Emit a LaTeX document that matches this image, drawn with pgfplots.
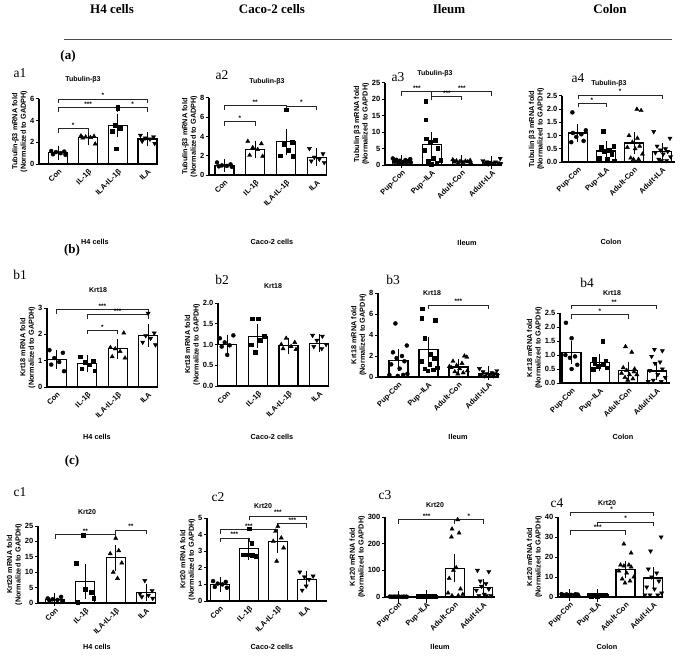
\documentclass[border=0pt]{standalone}
\usepackage{fontspec}
\setmainfont{Liberation Sans}
\newfontfamily\timesf{Liberation Serif}
\usepackage{pgfplots}
\pgfplotsset{compat=1.18}
\newcommand{\brk}[4]{\draw[line width=0.75pt, black!85] (axis cs:#1,#3) ++(0pt,-4pt) -- (axis cs:#1,#3) -- node[above, black, font=\bfseries\fontsize{6.5}{6.5}\selectfont, inner sep=1pt]{#4} (axis cs:#2,#3) -- ++(0pt,-4pt);}
\pgfplotsset{
 panel/.style={scale only axis, axis lines=left, axis line style={-, line width=1.2pt}, clip=false, ymin=0,
  xtick={0,1,2,3}, xtick style={draw=none}, ytick style={line width=1pt, black}, tick align=outside, major tick length=3pt,
  tick label style={font=\bfseries\fontsize{7.5}{8}\selectfont}, xticklabel style={rotate=45, anchor=north east, inner sep=1pt},
  yticklabel style={inner sep=1.5pt},
  ylabel style={align=center, font=\bfseries\fontsize{7.3}{8.6}\selectfont, inner sep=1pt},
  /pgf/number format/assume math mode=true, anchor=south west},
 cellx/.style={xticklabels={Con,IL-1β,ILA-IL-1β,ILA}},
 tissx/.style={xticklabels={Pup-Con,Pup–ILA,Adult-Con,Adult-ILA}},
 dec/.style={yticklabel style={/pgf/number format/.cd, fixed, fixed zerofill, precision=1}},
 barp/.style={ybar, bar shift=0pt, bar width=19pt, fill=white, draw=black, line width=1.3pt,
  error bars/.cd, y dir=both, y explicit, error bar style={line width=1pt, black}, error mark options={line width=1pt, mark size=6pt, black}},
 mk1/.style={only marks, black, mark=*, mark size=2pt},
 mk2/.style={only marks, black, mark=square*, mark size=1.8pt},
 mk3/.style={only marks, black, mark=triangle*, mark size=2.4pt},
 mk4/.style={only marks, black, mark=triangle*, mark size=2.4pt, mark options={rotate=180}},
}
\begin{document}
\begin{tikzpicture}
\path[use as bounding box] (0pt,0pt) rectangle (685pt,-658pt);
% headers
\begin{scope}[font=\timesf\bfseries\fontsize{13}{13}\selectfont]
\node at (112pt,-9pt) {H4 cells};
\node at (272pt,-9pt) {Caco-2 cells};
\node at (449pt,-9pt) {Ileum};
\node at (610pt,-9pt) {Colon};
\node at (68pt,-56pt) {(a)};
\node at (72pt,-250pt) {(b)};
\node at (72pt,-461pt) {(c)};
\end{scope}
\draw[line width=0.8pt, black!70] (64pt,-39pt) -- (672pt,-39pt);
\begin{scope}[font=\timesf\fontsize{13.5}{13.5}\selectfont]
\node at (20pt,-73pt) {a1};
\node at (222pt,-75pt) {a2};
\node at (398pt,-77pt) {a3};
\node at (578pt,-78pt) {a4};
\node at (20pt,-275pt) {b1};
\node at (222pt,-280pt) {b2};
\node at (393pt,-280pt) {b3};
\node at (587pt,-283pt) {b4};
\node at (20pt,-492pt) {c1};
\node at (218pt,-497pt) {c2};
\node at (385pt,-495pt) {c3};
\node at (557pt,-503pt) {c4};
\end{scope}
\begin{scope}[font=\bfseries\fontsize{7}{8}\selectfont]
\node at (83pt,-80pt) {Tubulin-β3};
\node at (267pt,-82pt) {Tubulin-β3};
\node at (435pt,-74pt) {Tubulin-β3};
\node at (609pt,-84pt) {Tubulin-β3};
\node at (98pt,-290pt) {Krt18};
\node at (273pt,-286pt) {Krt18};
\node at (432pt,-293pt) {Krt18};
\node at (612pt,-293pt) {Krt18};
\node at (87pt,-512pt) {Krt20};
\node at (263pt,-506pt) {Krt20};
\node at (435pt,-505pt) {Krt20};
\node at (607pt,-503pt) {Krt20};
\end{scope}
\begin{scope}[font=\bfseries\fontsize{7.3}{8}\selectfont]
\node at (95pt,-242pt) {H4 cells};
\node at (272pt,-242pt) {Caco-2 cells};
\node at (467pt,-243pt) {Ileum};
\node at (611pt,-242pt) {Colon};
\node at (97pt,-437pt) {H4 cells};
\node at (272pt,-437pt) {Caco-2 cells};
\node at (458pt,-437pt) {Ileum};
\node at (623pt,-437pt) {Colon};
\node at (97pt,-647pt) {H4 cells};
\node at (272pt,-647pt) {Caco-2 cells};
\node at (440pt,-647pt) {Ileum};
\node at (607pt,-647pt) {Colon};
\end{scope}

% ---------- a1
\begin{axis}[panel, cellx, at={(39pt,-164pt)}, width=116pt, height=65pt, xmin=-0.65, xmax=3.25, ymax=6, ytick={0,2,4,6},
 ylabel={Tubulin-β3 mRNA fold\\(Normalized to GADPH)}]
\addplot[barp] coordinates {(0,1.05) +- (0,0.1) (1,2.45) +- (0,0.15) (2,3.55) +- (0,0.55) (3,2.3) +- (0,0.12)};
\addplot[mk1] coordinates {(-0.24,1.2) (0.2,1.15) (-0.08,1.1) (0.08,1.0) (-0.18,0.9) (0.24,0.85)};
\addplot[mk3] coordinates {(0.76,2.6) (1.2,2.55) (0.92,2.5) (1.08,2.45) (0.82,2.4) (1.24,1.85)};
\addplot[mk2] coordinates {(2.0,5.3) (2.0,5.1) (1.92,3.6) (2.08,3.3) (1.82,3.0) (1.95,1.4)};
\addplot[mk4] coordinates {(2.76,2.65) (3.2,2.5) (2.92,2.4) (3.08,2.3) (2.82,2.1) (3.24,1.9)};
\brk{0}{3}{6.0}{*}
\brk{0}{2}{5.2}{***}
\brk{2}{3}{5.2}{*}
\brk{0}{1}{3.25}{*}
\end{axis}

% ---------- a2
\begin{axis}[panel, cellx, at={(209pt,-175pt)}, width=118pt, height=77pt, xmin=-0.5, xmax=3.33, ymax=8, ytick={0,2,4,6,8},
 ylabel={Tubulin-β3 mRNA fold\\(Normalized to GADPH)}]
\addplot[barp] coordinates {(0,1.0) +- (0,0.08) (1,2.65) +- (0,0.28) (2,3.45) +- (0,0.75) (3,1.85) +- (0,0.28)};
\addplot[mk1] coordinates {(-0.24,1.3) (0.2,1.1) (-0.08,1.0) (0.08,0.95) (-0.18,0.9) (0.24,0.85)};
\addplot[mk3] coordinates {(0.76,3.5) (1.2,3.25) (0.92,2.85) (1.08,2.65) (0.82,2.05) (1.24,1.95)};
\addplot[mk2] coordinates {(2.0,6.8) (2.2,3.4) (1.92,3.2) (2.08,2.6) (1.82,2.0) (2.24,1.95)};
\addplot[mk4] coordinates {(2.76,2.75) (3.2,2.2) (2.92,1.85) (3.08,1.65) (2.82,1.45) (3.24,1.3)};
\brk{0}{1}{5.55}{*}
\brk{0}{2}{7.2}{**}
\brk{2}{3}{7.15}{*}
\end{axis}

% ---------- a3
\begin{axis}[panel, tissx, at={(385pt,-165pt)}, width=117pt, height=82pt, xmin=-0.56, xmax=3.34, ymax=25, ytick={0,5,10,15,20,25},
 ylabel={Tubulin β3 mRNA fold\\(Normalized to GAPDH)}]
\addplot[barp] coordinates {(0,1.2) +- (0,0.15) (1,6.3) +- (0,1.8) (2,1.0) +- (0,0.1) (3,0.8) +- (0,0.12)};
\addplot[mk1] coordinates {(-0.3,2.0) (0.28,1.8) (-0.18,1.6) (0.12,1.5) (-0.06,1.3) (0.2,1.2) (-0.24,1.0) (0.04,0.9) (0.3,0.8) (-0.12,0.7) (0.16,0.6) (-0.02,0.5)};
\addplot[mk2] coordinates {(0.8,19.5) (0.8,13.8) (0.82,8.0) (1.12,7.5) (0.94,7.0) (1.2,5.2) (0.76,4.5) (1.04,2.0) (1.3,1.5) (0.88,1.2) (1.16,0.5) (0.98,0.3)};
\addplot[mk3] coordinates {(1.7,1.6) (2.28,1.4) (1.82,1.3) (2.12,1.2) (1.94,1.1) (2.2,1.0) (1.76,0.9) (2.04,0.8) (2.3,0.7) (1.88,0.6)};
\addplot[mk4] coordinates {(3.28,2.0) (2.7,1.3) (2.82,1.0) (3.12,0.9) (2.94,0.8) (3.2,0.7) (2.76,0.6) (3.04,0.5) (3.3,0.4) (2.88,0.3)};
\brk{0}{1}{22.4}{***}
\brk{1}{3}{22.4}{***}
\brk{1}{2}{20.9}{***}
\end{axis}

% ---------- a4
\begin{axis}[panel, tissx, dec, at={(562pt,-162pt)}, width=113pt, height=66pt, xmin=-0.57, xmax=3.46, ymax=2.5, ytick={0,0.5,1,1.5,2,2.5},
 ylabel={Tubulin β3 mRNA fold\\(Normalized to GAPDH)}]
\addplot[barp] coordinates {(0,1.1) +- (0,0.13) (1,0.42) +- (0,0.13) (2,0.72) +- (0,0.18) (3,0.4) +- (0,0.1)};
\addplot[mk1] coordinates {(-0.2,1.88) (0.28,1.2) (-0.18,1.1) (0.12,1.05) (-0.06,0.95) (0.2,0.8) (-0.24,0.75)};
\addplot[mk2] coordinates {(0.9,1.17) (1.28,0.6) (0.82,0.55) (1.12,0.45) (0.94,0.4) (1.2,0.3) (0.76,0.15) (1.04,0.1) (1.3,0.05)};
\addplot[mk3] coordinates {(2.1,2.0) (2.25,1.95) (1.82,1.0) (2.12,0.9) (1.94,0.75) (2.2,0.6) (1.76,0.55) (2.04,0.5) (2.3,0.3) (1.88,0.15) (2.16,0.1) (1.98,0.1)};
\addplot[mk4] coordinates {(2.7,1.15) (3.28,0.9) (2.82,0.6) (3.12,0.5) (2.94,0.45) (3.2,0.4) (2.76,0.35) (3.04,0.3) (3.3,0.2) (2.88,0.1) (3.16,0.05) (2.98,0.05)};
\brk{0}{3}{2.54}{*}
\brk{0}{1}{2.22}{*}
\end{axis}

% ---------- b1
\begin{axis}[panel, cellx, at={(47pt,-387pt)}, width=110pt, height=79pt, xmin=-0.32, xmax=3.29, ymax=3, ytick={0,1,2,3},
 ylabel={Krt18 mRNA fold\\(Normalized to GAPDH)}]
\addplot[barp] coordinates {(0,1.05) +- (0,0.13) (1,0.88) +- (0,0.09) (2,1.45) +- (0,0.15) (3,1.95) +- (0,0.2)};
\addplot[mk1] coordinates {(-0.24,1.4) (0.2,1.3) (-0.08,1.1) (0.08,0.95) (-0.18,0.85) (0.24,0.6)};
\addplot[mk2] coordinates {(0.76,1.15) (1.2,1.0) (0.92,0.95) (1.08,0.85) (0.82,0.7) (1.24,0.62)};
\addplot[mk3] coordinates {(2.2,2.05) (1.76,1.5) (1.92,1.45) (2.08,1.35) (1.82,1.15) (2.24,1.1)};
\addplot[mk4] coordinates {(3.0,2.8) (3.2,2.05) (2.92,1.95) (3.08,1.85) (2.82,1.7) (3.24,1.6)};
\brk{0}{3}{2.94}{***}
\brk{1}{3}{2.75}{***}
\brk{1}{2}{2.15}{*}
\end{axis}

% ---------- b2
\begin{axis}[panel, cellx, dec, at={(218pt,-386pt)}, width=109pt, height=83pt, xmin=-0.3, xmax=3.25, ymax=2, ytick={0,0.5,1,1.5,2},
 ylabel={Krt18 mRNA fold\\(Normalized to GAPDH)}]
\addplot[barp] coordinates {(0,1.0) +- (0,0.08) (1,1.2) +- (0,0.15) (2,0.97) +- (0,0.05) (3,1.03) +- (0,0.07)};
\addplot[mk1] coordinates {(0.2,1.22) (-0.24,1.15) (-0.08,1.05) (0.08,0.98) (-0.18,0.95) (0.0,0.75)};
\addplot[mk2] coordinates {(0.82,1.62) (1.0,1.62) (1.2,1.2) (1.08,1.1) (0.78,1.0) (0.92,0.82)};
\addplot[mk3] coordinates {(1.92,1.15) (2.2,1.05) (1.76,1.0) (2.08,0.95) (1.82,0.9) (2.24,0.88)};
\addplot[mk4] coordinates {(2.78,1.22) (3.1,1.2) (2.92,1.1) (3.22,1.0) (2.82,0.95) (3.08,0.9)};
\end{axis}

% ---------- b3
\begin{axis}[panel, tissx, at={(378pt,-377pt)}, width=120pt, height=84pt, xmin=-0.68, xmax=3.32, ymax=8, ytick={0,2,4,6,8},
 ylabel={Krt18 mRNA fold\\(Normalized to GAPDH)}]
\addplot[barp] coordinates {(0,1.6) +- (0,0.45) (1,2.6) +- (0,0.65) (2,0.95) +- (0,0.15) (3,0.35) +- (0,0.08)};
\addplot[mk1] coordinates {(-0.1,5.1) (0.28,3.0) (-0.18,2.35) (0.12,2.0) (-0.06,1.8) (0.2,1.5) (-0.24,1.2) (0.04,0.8) (0.3,0.3) (-0.3,0.2) (0.16,0.2) (-0.02,0.1)};
\addplot[mk2] coordinates {(0.8,6.5) (0.78,5.6) (1.22,5.4) (0.88,3.7) (1.06,2.2) (1.2,1.8) (0.76,1.5) (1.04,1.2) (1.3,0.9) (0.88,0.8) (1.16,0.7) (0.98,0.6)};
\addplot[mk3] coordinates {(2.2,2.0) (2.28,1.9) (1.82,1.5) (2.12,1.3) (1.94,1.1) (1.7,1.0) (1.76,0.9) (2.04,0.8) (2.3,0.6) (1.88,0.5) (2.16,0.4) (1.98,0.3)};
\addplot[mk4] coordinates {(2.7,0.8) (3.28,0.6) (2.82,0.5) (3.12,0.4) (2.94,0.3) (3.2,0.3) (2.76,0.2) (3.04,0.2) (3.3,0.15) (2.88,0.1) (3.16,0.1)};
\brk{1}{3}{6.83}{***}
\end{axis}

% ---------- b4
\begin{axis}[panel, tissx, dec, at={(560pt,-383pt)}, width=110pt, height=70pt, xmin=-0.41, xmax=3.47, ymax=2.5, ytick={0,0.5,1,1.5,2,2.5},
 ylabel={Krt18 mRNA fold\\(Normalized to GAPDH)}]
\addplot[barp] coordinates {(0,1.1) +- (0,0.2) (1,0.73) +- (0,0.1) (2,0.45) +- (0,0.1) (3,0.43) +- (0,0.12)};
\addplot[mk1] coordinates {(-0.2,2.15) (0.0,1.6) (-0.22,1.0) (0.12,0.95) (-0.06,0.9) (0.2,0.65) (0.0,0.5)};
\addplot[mk2] coordinates {(1.1,1.5) (0.8,0.85) (1.2,0.8) (0.82,0.7) (1.12,0.65) (0.94,0.6) (1.26,0.55) (0.76,0.5)};
\addplot[mk3] coordinates {(1.9,1.3) (2.12,1.1) (1.82,0.55) (2.22,0.5) (1.94,0.45) (2.2,0.4) (1.76,0.35) (2.04,0.3) (2.3,0.3) (1.88,0.2) (2.16,0.15) (1.98,0.1)};
\addplot[mk4] coordinates {(2.92,1.2) (3.2,1.15) (2.82,0.95) (3.12,0.75) (2.94,0.7) (3.2,0.5) (2.76,0.45) (3.04,0.3) (3.3,0.2) (2.88,0.1) (3.16,0.05) (2.7,0.05)};
\brk{0}{3}{2.77}{**}
\brk{0}{2}{2.44}{*}
\end{axis}

% ---------- c1
\begin{axis}[panel, cellx, at={(38pt,-603pt)}, width=115pt, height=77pt, xmin=-0.56, xmax=3.23, ymax=25, ytick={0,5,10,15,20,25},
 ylabel={Krt20 mRNA fold\\(Normalized to GAPDH)}]
\addplot[barp] coordinates {(0,1.2) +- (0,0.2) (1,7.0) +- (0,3.6) (2,14.7) +- (0,2.2) (3,3.4) +- (0,0.9)};
\addplot[mk1] coordinates {(0.2,2.0) (-0.24,1.5) (-0.08,1.2) (0.08,1.0) (-0.18,0.8) (0.24,0.7)};
\addplot[mk2] coordinates {(0.93,22) (0.7,13) (1.0,4.5) (1.2,3.5) (1.28,1.5) (0.75,0.3)};
\addplot[mk3] coordinates {(2.0,21) (2.1,17) (1.82,16) (2.2,13) (1.92,10) (2.06,8)};
\addplot[mk4] coordinates {(2.96,7.3) (3.2,4) (2.8,3) (3.08,2.5) (2.86,2) (3.22,1.5)};
\brk{0}{2}{22.2}{**}
\brk{2}{3}{23.6}{**}
\end{axis}

% ---------- c2
\begin{axis}[panel, cellx, at={(207pt,-601pt)}, width=120pt, height=83pt, xmin=-0.45, xmax=3.7, ymax=5, ytick={0,1,2,3,4,5},
 ylabel={Krt20 mRNA fold\\(Normalized to GAPDH)}]
\addplot[barp] coordinates {(0,1.0) +- (0,0.07) (1,3.15) +- (0,0.3) (2,3.6) +- (0,0.35) (3,1.3) +- (0,0.17)};
\addplot[mk1] coordinates {(-0.24,1.2) (0.2,1.15) (-0.08,1.05) (0.08,1.0) (-0.18,0.85) (0.24,0.8)};
\addplot[mk2] coordinates {(1.0,4.35) (1.1,3.5) (0.78,2.8) (0.95,2.8) (1.12,2.75) (1.24,2.7)};
\addplot[mk3] coordinates {(2.0,4.5) (1.92,4.2) (2.12,3.8) (1.84,3.6) (2.2,3.2) (1.96,2.4)};
\addplot[mk4] coordinates {(2.76,1.75) (3.22,1.5) (2.92,1.45) (3.08,1.3) (2.98,0.9) (2.84,0.65)};
\brk{1}{3}{5.1}{***}
\brk{2}{3}{4.65}{***}
\brk{0}{2}{4.3}{***}
\brk{0}{1}{3.8}{***}
\end{axis}

% ---------- c3
\begin{axis}[panel, tissx, at={(385pt,-597pt)}, width=110pt, height=80pt, xmin=-0.47, xmax=3.42, ymax=300, ytick={0,100,200,300},
 ylabel={Krt20 mRNA fold\\(Normalized to GAPDH)}]
\addplot[barp] coordinates {(0,1.0) +- (0,0.2) (1,2.0) +- (0,0.3) (2,107) +- (0,30) (3,35) +- (0,9)};
\addplot[mk1] coordinates {(-0.3,1.5) (0.28,1.2) (-0.18,1.0) (0.12,0.8) (-0.06,0.7) (0.2,1.4) (-0.24,0.9) (0.04,1.1) (0.3,0.6) (-0.12,1.3) (0.16,0.5) (-0.02,0.9)};
\addplot[mk2] coordinates {(0.7,3.5) (1.28,2.5) (0.82,2.0) (1.12,3.0) (0.94,1.5) (1.2,4.0) (0.76,1.0) (1.04,2.2) (1.3,0.8) (0.88,1.8) (1.16,1.2) (0.98,2.8)};
\addplot[mk3] coordinates {(2.1,290) (1.9,255) (2.15,240) (1.88,225) (2.05,110) (1.95,100) (1.8,70) (2.2,30) (1.76,15) (2.28,10) (1.9,5) (2.12,5)};
\addplot[mk4] coordinates {(2.8,100) (3.2,95) (2.9,60) (3.1,50) (2.94,40) (3.2,30) (2.76,25) (3.04,10) (3.28,5) (2.85,5) (3.12,5)};
\brk{0}{2}{290}{***}
\brk{2}{3}{290}{*}
\end{axis}

% ---------- c4
\begin{axis}[panel, tissx, at={(558pt,-597pt)}, width=102pt, height=80pt, xmin=-0.43, xmax=3.24, ymax=40, ytick={0,10,20,30,40},
 ylabel={Krt20 mRNA fold\\(Normalized to GAPDH)}]
\addplot[barp] coordinates {(0,1.0) +- (0,0.1) (1,0.8) +- (0,0.08) (2,13.7) +- (0,1.3) (3,9.5) +- (0,2.5)};
\addplot[mk1] coordinates {(-0.3,1.5) (0.28,1.2) (-0.18,1.0) (0.12,0.8) (-0.06,0.7) (0.2,1.4) (-0.24,0.9) (0.04,1.1) (0.3,0.6) (-0.12,1.3) (0.16,0.5) (-0.02,0.9)};
\addplot[mk2] coordinates {(0.7,1.0) (1.28,0.8) (0.82,0.9) (1.12,0.6) (0.94,0.7) (1.2,1.1) (0.76,0.5) (1.04,0.8) (1.3,0.6) (0.88,0.9) (1.16,0.7) (0.98,0.5)};
\addplot[mk3] coordinates {(1.94,26.5) (2.2,22) (1.82,16) (2.12,16) (1.94,15.5) (2.2,15) (1.76,13) (2.04,12) (2.3,10) (1.88,9) (2.16,8) (1.98,7)};
\addplot[mk4] coordinates {(3.28,30) (2.9,23) (2.82,14) (3.12,12) (2.94,10) (3.2,8) (2.76,5) (3.04,4) (3.3,2) (2.88,1) (3.16,1) (2.7,1)};
\brk{0}{3}{42.3}{*}
\brk{1}{3}{37.5}{*}
\brk{0}{2}{33.2}{***}
\end{axis}
\end{tikzpicture}
\end{document}
